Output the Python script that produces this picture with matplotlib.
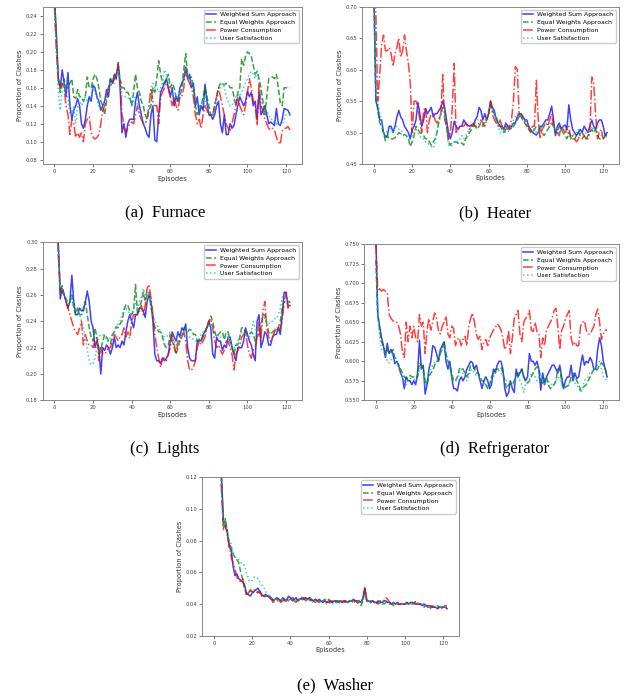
import numpy as np
import matplotlib
matplotlib.use("Agg")
import matplotlib.pyplot as plt

# episodes 0..122 for every appliance
episodes = np.arange(123)

series_labels = ["Weighted Sum Approach", "Equal Weights Approach",
                 "Power Consumption", "User Satisfaction"]

# ---- Furnace (values in thousandths) ----
furnace_ws = np.array([
    260, 220, 170, 160, 180, 165, 150, 177, 140, 125,
    135, 140, 148, 140, 120, 115, 125, 140, 150, 145,
    163, 160, 150, 145, 135, 140, 145, 158, 150, 170,
    165, 175, 170, 188, 160, 110, 120, 105, 120, 125,
    125, 125, 145, 155, 140, 130, 120, 115, 108, 105,
    130, 140, 102, 100, 130, 155, 160, 165, 170, 160,
    150, 160, 140, 150, 145, 160, 165, 170, 183, 170,
    175, 160, 165, 140, 150, 130, 140, 135, 164, 145,
    130, 130, 125, 130, 140, 145, 120, 110, 130, 108,
    108, 120, 115, 118, 130, 140, 150, 145, 140, 145,
    156, 150, 155, 140, 145, 125, 155, 130, 135, 140,
    130, 120, 122, 120, 118, 137, 120, 118, 125, 137,
    136, 135, 130]) / 1000
furnace_ew = np.array([
    260, 210, 170, 155, 165, 170, 160, 160, 165, 170,
    150, 148, 158, 150, 150, 145, 150, 172, 160, 160,
    170, 175, 170, 160, 145, 140, 130, 145, 160, 170,
    165, 170, 175, 185, 170, 160, 160, 155, 155, 150,
    140, 155, 175, 160, 155, 145, 140, 130, 125, 135,
    140, 160, 155, 170, 190, 175, 165, 165, 170, 175,
    160, 165, 160, 150, 145, 150, 160, 180, 198, 175,
    170, 172, 160, 140, 130, 140, 140, 150, 160, 150,
    140, 130, 130, 140, 150, 160, 165, 165, 163, 165,
    164, 160, 160, 150, 140, 155, 160, 192, 185, 195,
    200, 198, 195, 185, 175, 178, 170, 160, 145, 130,
    150, 170, 172, 172, 170, 175, 160, 143, 140, 160,
    160, 160, 160]) / 1000
furnace_pc = np.array([
    250, 200, 170, 160, 165, 160, 140, 130, 108, 125,
    120, 105, 110, 105, 110, 100, 120, 125, 128, 110,
    105, 103, 105, 108, 120, 135, 140, 150, 160, 162,
    165, 170, 175, 185, 170, 130, 120, 110, 115, 120,
    122, 120, 130, 140, 130, 125, 120, 120, 125, 140,
    160, 145, 140, 140, 120, 150, 155, 160, 165, 160,
    150, 140, 150, 140, 135, 150, 150, 160, 180, 170,
    165, 160, 150, 130, 120, 125, 115, 130, 140, 135,
    130, 128, 130, 140, 150, 160, 150, 140, 130, 120,
    115, 113, 120, 130, 140, 150, 140, 135, 130, 140,
    155, 170, 160, 145, 140, 118, 165, 140, 135, 125,
    120, 115, 113, 115, 113, 105, 100, 97, 112, 115,
    115, 117, 113]) / 1000
furnace_us = np.array([
    250, 200, 155, 135, 160, 165, 150, 150, 130, 130,
    140, 120, 140, 145, 140, 145, 150, 145, 145, 150,
    160, 155, 148, 140, 135, 140, 145, 150, 160, 163,
    165, 165, 170, 180, 170, 150, 150, 150, 148, 150,
    140, 145, 150, 140, 130, 125, 120, 120, 130, 140,
    160, 165, 160, 160, 155, 160, 165, 180, 175, 170,
    160, 155, 150, 145, 150, 155, 160, 170, 180, 175,
    170, 165, 160, 145, 140, 140, 140, 145, 150, 140,
    135, 130, 130, 135, 145, 155, 160, 165, 160, 150,
    145, 140, 140, 145, 150, 155, 150, 155, 160, 165,
    170, 175, 178, 175, 170, 180, 165, 150, 140, 135,
    135, 130, 125, 125, 120, 120, 118, 120, 120, 125,
    130, 130, 130]) / 1000

# ---- Heater ----
heater_ws = np.array([
    720, 550, 540, 520, 520, 500, 493, 495, 510, 510,
    500, 510, 525, 535, 525, 520, 510, 505, 500, 490,
    505, 510, 520, 548, 530, 510, 520, 538, 530, 535,
    540, 525, 530, 530, 535, 540, 550, 540, 520, 500,
    490, 500, 518, 510, 505, 510, 510, 520, 515, 512,
    510, 512, 510, 520, 525, 540, 535, 520, 530, 520,
    530, 550, 540, 535, 520, 515, 510, 510, 505, 515,
    510, 505, 510, 515, 515, 525, 530, 530, 525, 520,
    520, 510, 505, 500, 498, 496, 500, 510, 510, 515,
    520, 520, 530, 542, 520, 495, 510, 515, 505, 510,
    512, 505, 544, 520, 505, 500, 495, 500, 505, 500,
    510, 505, 500, 510, 520, 510, 505, 515, 520, 520,
    510, 495, 500]) / 1000
heater_ew = np.array([
    720, 560, 535, 515, 510, 500, 487, 495, 490, 490,
    490, 492, 495, 500, 498, 495, 497, 495, 490, 478,
    485, 495, 510, 505, 500, 498, 495, 490, 490, 485,
    480, 485, 490, 500, 520, 530, 540, 535, 510, 485,
    480, 485, 485, 485, 483, 485, 483, 480, 490, 495,
    500, 505, 510, 510, 505, 510, 515, 510, 520, 520,
    530, 545, 535, 530, 525, 515, 510, 505, 500, 505,
    510, 510, 505, 510, 515, 520, 525, 530, 520, 515,
    510, 505, 500, 500, 505, 510, 510, 505, 500, 495,
    500, 505, 510, 515, 510, 500, 500, 510, 505, 500,
    495, 490, 500, 495, 490, 490, 495, 500, 495, 490,
    495, 490, 495, 500, 505, 500, 505, 495, 490, 490,
    490, 495, 497]) / 1000
heater_pc = np.array([
    720, 690, 550, 590, 640, 655, 630, 630, 635, 625,
    605, 625, 635, 650, 620, 630, 655, 630, 610, 580,
    500, 550, 550, 540, 520, 500, 535, 540, 500, 520,
    530, 530, 520, 515, 520, 530, 592, 520, 510, 490,
    500, 540, 610, 500, 505, 510, 510, 510, 515, 510,
    505, 510, 515, 510, 510, 515, 520, 515, 510, 520,
    530, 550, 530, 520, 515, 510, 520, 510, 505, 510,
    505, 510, 520, 550, 605, 600, 530, 525, 520, 520,
    510, 510, 500, 510, 510, 583, 520, 490, 505, 510,
    515, 510, 520, 530, 510, 500, 500, 495, 510, 505,
    500, 505, 510, 490, 495, 490, 485, 490, 500, 500,
    495, 490, 490, 500, 588, 580, 530, 490, 500, 505,
    490, 495, 495]) / 1000
heater_us = np.array([
    720, 560, 550, 530, 520, 500, 495, 505, 510, 505,
    500, 505, 510, 505, 505, 500, 495, 495, 490, 490,
    495, 500, 505, 500, 495, 490, 490, 485, 485, 480,
    478, 475, 485, 500, 515, 530, 535, 530, 505, 480,
    478, 480, 485, 487, 485, 490, 495, 490, 495, 500,
    505, 510, 510, 515, 520, 520, 515, 510, 515, 525,
    535, 540, 535, 530, 520, 510, 500, 500, 505, 500,
    500, 505, 510, 520, 525, 530, 530, 525, 520, 520,
    515, 510, 505, 510, 505, 500, 500, 505, 510, 515,
    515, 510, 510, 515, 510, 505, 500, 500, 505, 510,
    505, 500, 495, 490, 495, 500, 500, 505, 500, 495,
    495, 500, 500, 505, 510, 505, 500, 500, 500, 495,
    495, 490, 495]) / 1000

# ---- Lights ----
lights_ws = np.array([
    340, 320, 300, 257, 265, 260, 255, 250, 255, 275,
    255, 245, 245, 250, 248, 248, 255, 263, 255, 240,
    235, 220, 225, 220, 200, 220, 218, 222, 220, 215,
    220, 228, 220, 222, 220, 225, 222, 232, 240, 245,
    240, 235, 245, 245, 250, 250, 248, 243, 255, 260,
    255, 240, 215, 210, 210, 208, 212, 210, 212, 215,
    225, 232, 228, 225, 232, 228, 235, 233, 238, 220,
    212, 210, 210, 210, 225, 226, 225, 230, 232, 235,
    240, 235, 215, 212, 228, 225, 225, 218, 222, 220,
    228, 228, 220, 215, 210, 220, 220, 220, 225, 235,
    230, 225, 222, 215, 210, 240, 245, 220, 225, 232,
    230, 222, 222, 228, 230, 230, 235, 230, 245, 262,
    262, 252, 252]) / 1000
lights_ew = np.array([
    340, 320, 290, 262, 267, 260, 257, 250, 255, 260,
    250, 245, 250, 245, 245, 250, 255, 245, 235, 228,
    225, 235, 228, 215, 218, 225, 230, 228, 225, 223,
    230, 232, 236, 235, 238, 240, 248, 253, 252, 248,
    245, 248, 268, 245, 250, 255, 262, 255, 260, 262,
    250, 245, 235, 235, 232, 232, 228, 222, 220, 222,
    230, 225, 220, 215, 220, 225, 228, 235, 233, 232,
    234, 233, 230, 230, 225, 225, 225, 228, 232, 236,
    240, 244, 240, 232, 228, 230, 232, 232, 226, 232,
    232, 225, 220, 215, 222, 222, 228, 235, 235, 232,
    230, 230, 232, 230, 225, 228, 230, 235, 245, 245,
    238, 232, 230, 232, 233, 235, 235, 240, 250, 255,
    255, 255, 255]) / 1000
lights_pc = np.array([
    340, 320, 295, 265, 262, 260, 255, 250, 245, 240,
    235, 232, 230, 235, 240, 222, 230, 225, 222, 222,
    220, 225, 228, 210, 220, 215, 215, 217, 220, 220,
    225, 230, 228, 225, 228, 230, 235, 228, 232, 227,
    240, 245, 245, 245, 248, 252, 245, 252, 265, 268,
    258, 245, 230, 220, 212, 205, 212, 212, 210, 215,
    220, 230, 222, 215, 225, 225, 228, 232, 225, 210,
    203, 203, 205, 210, 220, 225, 222, 225, 228, 235,
    240, 242, 235, 225, 220, 222, 218, 215, 218, 225,
    225, 220, 215, 203, 215, 218, 222, 228, 230, 232,
    222, 215, 212, 218, 220, 228, 240, 225, 248, 255,
    235, 228, 225, 228, 232, 235, 232, 235, 240, 255,
    262, 250, 255]) / 1000
lights_us = np.array([
    340, 320, 290, 265, 265, 260, 258, 255, 255, 258,
    252, 250, 248, 245, 240, 235, 228, 218, 210, 207,
    208, 212, 220, 228, 230, 230, 228, 225, 225, 228,
    230, 232, 235, 238, 240, 245, 250, 250, 248, 245,
    245, 250, 255, 250, 255, 258, 265, 260, 262, 262,
    255, 245, 240, 238, 235, 232, 230, 228, 228, 230,
    232, 228, 225, 222, 225, 228, 232, 232, 230, 228,
    228, 228, 226, 225, 225, 227, 230, 232, 234, 235,
    237, 238, 235, 232, 230, 228, 228, 228, 228, 228,
    228, 225, 222, 220, 222, 225, 228, 232, 232, 230,
    228, 228, 232, 240, 235, 232, 235, 240, 245, 242,
    240, 238, 240, 240, 242, 242, 245, 250, 258, 260,
    258, 255, 255]) / 1000

# ---- Refrigerator ----
fridge_ws = np.array([
    760, 660, 645, 630, 620, 605, 623, 610, 615, 610,
    597, 600, 595, 585, 580, 565, 580, 575, 575, 570,
    575, 570, 585, 627, 590, 595, 558, 570, 590, 600,
    620, 618, 610, 600, 615, 620, 625, 600, 590, 600,
    580, 565, 565, 562, 575, 580, 575, 580, 590, 595,
    600, 598, 590, 595, 585, 575, 565, 575, 580, 575,
    565, 570, 590, 585, 595, 600, 600, 590, 565, 555,
    560, 575, 565, 560, 590, 580, 585, 590, 580, 575,
    580, 610, 600, 600, 595, 600, 590, 563, 585, 570,
    580, 585, 590, 595, 595, 590, 585, 595, 580, 565,
    575, 580, 580, 595, 575, 585, 578, 580, 595, 608,
    595, 600, 598, 605, 600, 590, 590, 615, 630, 620,
    600, 590, 580]) / 1000
fridge_ew = np.array([
    730, 660, 640, 625, 620, 610, 615, 610, 610, 615,
    605, 600, 595, 590, 585, 580, 578, 580, 582, 580,
    580, 578, 580, 598, 595, 590, 575, 570, 580, 585,
    588, 595, 600, 600, 610, 615, 625, 610, 600, 595,
    585, 575, 575, 580, 590, 592, 590, 585, 580, 585,
    595, 595, 590, 585, 585, 580, 575, 575, 570, 565,
    570, 580, 585, 590, 590, 590, 592, 585, 575, 565,
    570, 572, 570, 575, 580, 585, 585, 590, 580, 575,
    572, 575, 580, 585, 590, 593, 590, 575, 570, 578,
    580, 570, 565, 568, 570, 575, 590, 590, 575, 565,
    567, 568, 570, 580, 585, 580, 575, 570, 563, 565,
    568, 570, 575, 580, 585, 590, 588, 590, 595, 598,
    595, 590, 580]) / 1000
fridge_pc = np.array([
    750, 690, 693, 690, 692, 690, 688, 660, 655, 652,
    650, 650, 645, 635, 612, 605, 650, 625, 645, 630,
    645, 630, 625, 660, 645, 650, 610, 640, 655, 640,
    650, 662, 655, 640, 635, 645, 650, 658, 635, 630,
    645, 642, 620, 628, 630, 620, 628, 632, 620, 645,
    655, 662, 650, 635, 628, 632, 615, 625, 628, 620,
    630, 635, 640, 643, 648, 645, 640, 630, 615, 620,
    640, 610, 630, 655, 660, 665, 635, 625, 650, 655,
    658, 665, 640, 638, 650, 638, 635, 605, 630, 620,
    640, 645, 650, 655, 665, 668, 645, 615, 640, 645,
    655, 660, 665, 630, 620, 625, 620, 620, 645, 650,
    652, 640, 635, 635, 640, 645, 660, 667, 650, 628,
    635, 640, 640]) / 1000
fridge_us = np.array([
    730, 660, 630, 615, 612, 610, 600, 598, 600, 610,
    608, 600, 590, 585, 580, 575, 570, 575, 578, 578,
    577, 575, 578, 590, 590, 585, 570, 575, 585, 590,
    595, 598, 600, 600, 610, 615, 620, 610, 600, 590,
    580, 575, 575, 578, 585, 590, 585, 580, 575, 580,
    588, 590, 585, 582, 580, 578, 575, 572, 570, 568,
    570, 575, 580, 585, 587, 588, 585, 580, 578, 575,
    575, 572, 568, 572, 578, 580, 575, 570, 560, 570,
    572, 578, 585, 585, 580, 575, 580, 585, 578, 570,
    575, 575, 572, 570, 570, 575, 580, 578, 570, 568,
    565, 570, 572, 575, 575, 572, 570, 565, 560, 565,
    575, 578, 580, 585, 585, 590, 592, 595, 600, 590,
    580, 578, 575]) / 1000

# ---- Washer (values in 1e-4) ----
washer_ws = np.array([
    3000, 2500, 2000, 1500, 1200, 920, 900, 850, 760, 740,
    640, 580, 590, 560, 550, 540, 520, 470, 460, 450,
    470, 480, 490, 500, 480, 460, 450, 460, 450, 450,
    440, 420, 430, 440, 430, 420, 440, 430, 420, 450,
    440, 420, 430, 440, 420, 430, 440, 430, 440, 430,
    440, 430, 420, 430, 420, 430, 420, 410, 420, 410,
    410, 420, 410, 420, 420, 410, 420, 410, 420, 420,
    410, 420, 420, 430, 420, 420, 420, 410, 440, 500,
    420, 420, 410, 420, 410, 410, 420, 410, 410, 420,
    420, 410, 410, 400, 410, 400, 410, 400, 400, 400,
    400, 410, 400, 410, 410, 400, 400, 400, 400, 390,
    400, 390, 390, 390, 380, 380, 380, 370, 380, 380,
    380, 380, 370]) / 10000
washer_ew = np.array([
    3000, 2500, 2000, 1500, 1150, 880, 940, 860, 780, 760,
    720, 690, 680, 660, 600, 560, 500, 460, 470, 480,
    480, 470, 470, 480, 470, 460, 450, 450, 450, 440,
    430, 430, 420, 420, 430, 420, 430, 420, 430, 420,
    430, 430, 440, 430, 420, 440, 430, 430, 440, 440,
    430, 420, 430, 430, 420, 420, 410, 420, 430, 420,
    430, 420, 410, 410, 420, 420, 410, 420, 410, 420,
    410, 420, 420, 410, 420, 410, 400, 390, 420, 490,
    420, 410, 420, 420, 410, 400, 410, 420, 410, 400,
    410, 410, 400, 400, 390, 400, 400, 400, 400, 400,
    400, 410, 400, 400, 400, 410, 420, 400, 400, 390,
    380, 390, 380, 370, 380, 380, 380, 390, 380, 380,
    380, 390, 390]) / 10000
washer_pc = np.array([
    3000, 2500, 2000, 1500, 1100, 870, 900, 830, 770, 700,
    660, 620, 570, 550, 540, 560, 510, 460, 470, 490,
    480, 490, 480, 470, 480, 450, 440, 450, 450, 440,
    430, 410, 420, 430, 420, 410, 420, 430, 410, 420,
    430, 440, 420, 410, 430, 420, 430, 440, 420, 430,
    420, 430, 420, 410, 420, 410, 420, 410, 420, 410,
    420, 410, 420, 420, 410, 410, 420, 410, 420, 410,
    420, 410, 410, 420, 420, 410, 410, 420, 430, 510,
    420, 410, 410, 420, 410, 410, 400, 410, 410, 420,
    440, 430, 410, 400, 400, 400, 390, 400, 400, 400,
    400, 400, 410, 400, 400, 410, 400, 400, 400, 390,
    390, 390, 380, 380, 390, 380, 380, 380, 370, 370,
    380, 380, 380]) / 10000
washer_us = np.array([
    3000, 2500, 2000, 1500, 1100, 880, 920, 860, 800, 780,
    700, 700, 690, 680, 660, 660, 640, 600, 560, 540,
    550, 570, 570, 560, 540, 520, 510, 480, 460, 450,
    440, 430, 430, 430, 420, 420, 430, 430, 420, 430,
    420, 430, 430, 420, 420, 430, 430, 420, 420, 430,
    420, 420, 410, 420, 410, 410, 410, 420, 410, 400,
    400, 410, 400, 410, 410, 400, 410, 410, 410, 410,
    410, 420, 420, 410, 410, 410, 420, 410, 420, 460,
    420, 410, 410, 410, 410, 410, 410, 410, 400, 400,
    410, 410, 400, 400, 400, 400, 400, 400, 400, 400,
    400, 400, 400, 400, 400, 400, 400, 400, 400, 400,
    390, 390, 390, 390, 390, 390, 390, 390, 380, 380,
    380, 380, 380]) / 10000

line_styles = [("b", "-"), ("g", "--"), ("r", "-."), ("c", ":")]


def draw_panel(fig, px_box, data, ylim, yticks, fmt, caption, cap_xy):
    # px_box = (left, top, width, height) in pixels of the 626x698 canvas
    l, t, w, h = px_box
    ax = fig.add_axes([l / 626, 1 - (t + h) / 698, w / 626, h / 698])
    for (color, ls), vals, lab in zip(line_styles, data, series_labels):
        ax.plot(episodes, vals, color=color, linestyle=ls, lw=1.1,
                alpha=0.75, label=lab)
    ax.set_ylim(*ylim)
    ax.set_yticks(yticks)
    ax.set_yticklabels([fmt.format(v) for v in yticks])
    ax.set_xticks([0, 20, 40, 60, 80, 100, 120])
    ax.tick_params(labelsize=3.8, length=2, width=0.5, pad=1.5,
                   colors="#444444")
    for sp in ax.spines.values():
        sp.set_color("#888888")
        sp.set_linewidth(0.7)
    ax.set_xlabel("Episodes", fontsize=4.8, labelpad=1, color="#333333")
    ax.set_ylabel("Proportion of Clashes", fontsize=4.8, labelpad=2,
                  color="#333333")
    ax.legend(loc="upper right", fontsize=4.4, handlelength=1.6,
              handletextpad=0.7, borderpad=0.4, labelspacing=0.4,
              framealpha=1, edgecolor="#cccccc")
    fig.text(cap_xy[0] / 626, 1 - cap_xy[1] / 698, caption,
             family="Liberation Serif", fontsize=12, ha="center",
             va="center")
    return ax


fig = plt.figure(figsize=(6.26, 6.98), dpi=100)

draw_panel(fig, (42.7, 6.7, 259, 157.6),
           [furnace_ws, furnace_ew, furnace_pc, furnace_us],
           (0.075, 0.25), np.arange(0.08, 0.241, 0.02), "{:.2f}",
           "(a)  Furnace", (165, 213))
draw_panel(fig, (362.3, 6.7, 256.4, 157.3),
           [heater_ws, heater_ew, heater_pc, heater_us],
           (0.45, 0.70), np.arange(0.45, 0.701, 0.05), "{:.2f}",
           "(b)  Heater", (495, 213))
draw_panel(fig, (42.7, 242.3, 259, 158),
           [lights_ws, lights_ew, lights_pc, lights_us],
           (0.18, 0.30), np.arange(0.18, 0.301, 0.02), "{:.2f}",
           "(c)  Lights", (165, 449))
draw_panel(fig, (364.3, 244.3, 254.4, 156),
           [fridge_ws, fridge_ew, fridge_pc, fridge_us],
           (0.55, 0.75), np.arange(0.55, 0.751, 0.025), "{:.3f}",
           "(d)  Refrigerator", (495, 449))
draw_panel(fig, (202.3, 477.3, 256.4, 158.4),
           [washer_ws, washer_ew, washer_pc, washer_us],
           (0.02, 0.12), np.arange(0.02, 0.121, 0.02), "{:.2f}",
           "(e)  Washer", (335, 685))

fig.savefig("out.png", dpi=100)
